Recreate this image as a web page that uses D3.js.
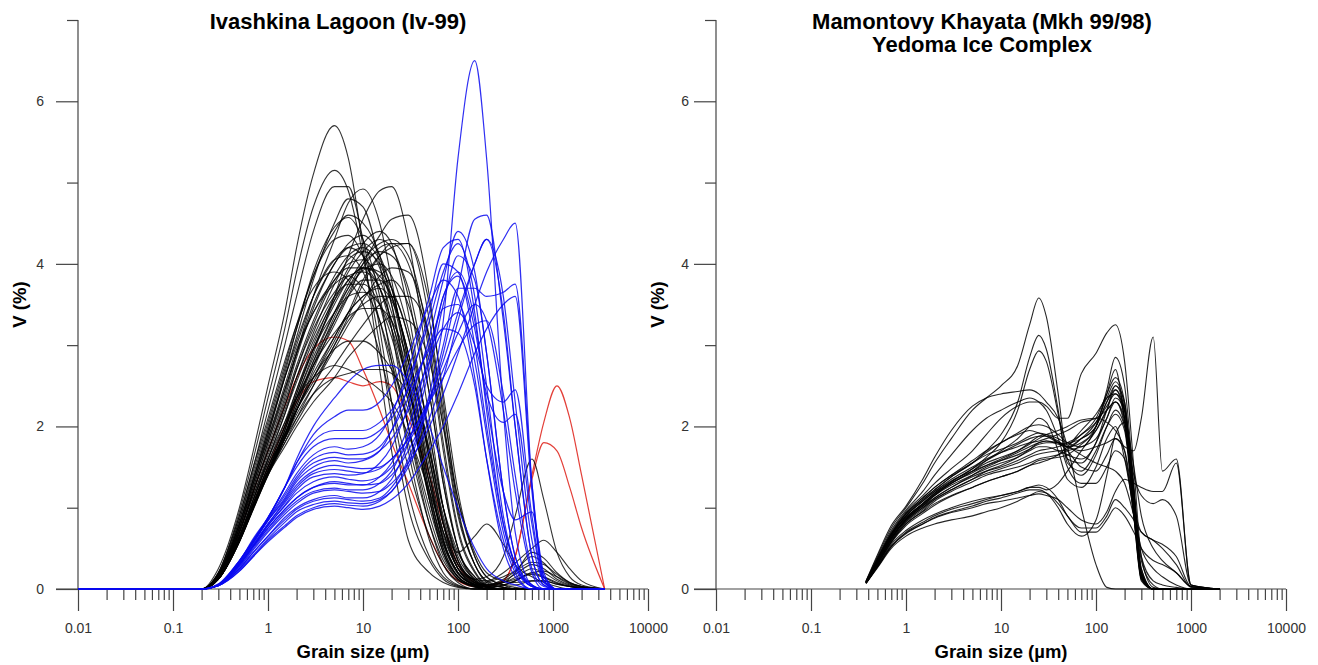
<!DOCTYPE html>
<html>
<head>
<meta charset="utf-8">
<script src="https://cdn.jsdelivr.net/npm/d3@7"></script>
<style>
  body { margin: 0; background: #fff; }
  text { font-family: "Liberation Sans", Arial, Helvetica, sans-serif; }
</style>
</head>
<body>
<svg id="chart" width="1318" height="665"></svg>
<script>
// ---------------- data ----------------
// grain sizes (µm) sampled for the Ivashkina Lagoon curves
const sizesLeft = [0.01, 0.2, 0.3, 0.5, 0.7, 1, 1.5, 2, 3, 5, 7, 10, 15, 20, 30, 50, 70, 100,
  150, 200, 300, 400, 600, 800, 1100, 1500, 2000, 3500];

// black samples, V (%)
const blackLeft = [
  [0,0,.25,1.0,1.7,2.5,3.4,4.2,5.1,5.7,5.3,4.2,2.7,1.7,.6,.2,.08,.02, 0,0,0,0,0,0,0,0,0,0],
  [0,0,.2,.95,1.6,2.35,3.2,3.9,4.7,5.15,4.9,4.1,3.0,2.1,1.0,.35,.12,.03, 0,0,0,0,0,0,0,0,0,0],
  [0,0,.2,.9,1.5,2.2,3.0,3.6,4.4,4.95,4.95,4.3,3.2,2.3,1.2,.4,.15,.04, 0,0,0,0,0,0,0,0,0,0],
  [0,0,.15,.75,1.25,1.8,2.4,2.9,3.6,4.3,4.75,4.92,4.5,3.8,2.6,1.1,.45,.12, .02,0,0,0,0,0,0,0,0,0],
  [0,0,.12,.6,1.0,1.45,1.95,2.35,2.9,3.6,4.1,4.55,4.9,4.95,4.3,2.6,1.4,.5, .1,.02,0,0,0,0,0,0,0,0],
  [0,0,.15,.8,1.3,1.9,2.6,3.1,3.8,4.5,4.8,4.7,4.0,3.2,2.0,.8,.3,.08, 0,0,0,0,0,0,0,0,0,0],
  [0,0,.14,.65,1.1,1.55,2.0,2.35,2.75,3.25,3.6,4.0,4.35,4.55,4.6,3.6,2.3,1.0, .3,.1,.02,0,0,0,0,0,0,0],
  [0,0,.18,.85,1.4,2.0,2.7,3.2,3.9,4.45,4.57,4.3,3.6,2.8,1.7,.6,.2,.05, 0,0,0,0,0,0,0,0,0,0],
  [0,0,.12,.6,1.05,1.5,2.0,2.45,3.0,3.6,3.95,4.25,4.4,4.25,3.4,1.8,.8,.25, .05,0,0,0,0,0,0,0,0,0],
  [0,0,.13,.62,1.05,1.5,1.9,2.2,2.55,3.0,3.35,3.75,4.1,4.25,4.25,3.5,2.4,1.2, .4,.15,.05,.02,0,0,0,0,0,0],
  [0,0,.14,.7,1.2,1.7,2.3,2.75,3.3,3.85,4.1,4.2,3.95,3.5,2.5,1.2,.5,.15, .03,0,0,0,0,0,0,0,0,0],
  [0,0,.17,.8,1.35,1.9,2.6,3.0,3.6,4.05,4.1,3.9,3.3,2.7,1.8,.8,.35,.12, .03,0,0,0,0,0,0,0,0,0],
  [0,0,.12,.6,1.0,1.45,1.95,2.35,2.85,3.4,3.7,3.92,4.0,3.85,3.2,1.9,1.0,.35, .08,0,0,0,0,0,0,0,0,0],
  [0,0,.15,.7,1.2,1.7,2.25,2.7,3.2,3.65,3.85,3.9,3.7,3.3,2.5,1.3,.6,.2, .05,.03,.08,.14,.25,.2,.1,.04,.02,0],
  [0,0,.16,.75,1.3,1.85,2.5,2.95,3.4,3.75,3.85,3.7,3.3,2.8,2.0,1.0,.45,.15, .05,.05,.12,.22,.4,.32,.15,.06,.03,0],
  [0,0,.12,.58,1.0,1.42,1.85,2.2,2.65,3.1,3.4,3.6,3.75,3.8,3.5,2.4,1.3,.5, .12,.03,0,0,0,0,0,0,0,0],
  [0,0,.12,.6,1.0,1.42,1.85,2.2,2.6,3.1,3.4,3.6,3.7,3.55,2.9,1.6,.8,.25, .12,.15,.4,.9,1.6,1.1,.45,.15,.05,0],
  [0,0,.12,.58,.98,1.4,1.8,2.1,2.5,3.0,3.3,3.5,3.6,3.6,3.1,1.6,.8,.45, .65,.8,.55,.3,.15,.08,.03,0,0,0],
  [0,0,.12,.6,1.0,1.45,1.9,2.3,2.8,3.3,3.6,3.8,3.8,3.6,2.9,1.6,.8,.3, .12,.1,.2,.32,.5,.6,.45,.25,.1,0],
  [0,0,.2,.9,1.5,2.1,2.8,3.25,3.7,3.9,3.8,3.5,2.9,2.3,1.5,.65,.3,.1, .05,.08,.15,.22,.33,.3,.18,.08,.03,0],
  [0,0,.15,.7,1.15,1.6,2.05,2.35,2.6,2.75,2.7,2.6,2.45,2.3,1.9,1.2,.7,.3, .1,.03,0,0,0,0,0,0,0,0],
  [0,0,.13,.65,1.1,1.55,2.05,2.45,2.95,3.4,3.6,3.65,3.5,3.2,2.5,1.4,.7,.25, .06,0,0,0,0,0,0,0,0,0],
  [0,0,.13,.6,1.02,1.45,1.9,2.25,2.75,3.35,3.7,4.0,4.15,4.1,3.7,2.4,1.3,.5, .15,.04,0,0,0,0,0,0,0,0],
  [0,0,.14,.7,1.2,1.7,2.25,2.7,3.25,3.8,4.0,4.05,3.8,3.4,2.6,1.3,.6,.2, .05,0,0,0,0,0,0,0,0,0],
  [0,0,.12,.58,1.0,1.42,1.85,2.2,2.7,3.3,3.65,3.95,4.2,4.25,4.0,2.9,1.7,.7, .2,.05,.02,0,0,0,0,0,0,0],
  [0,0,.13,.6,1.0,1.45,1.85,2.15,2.5,2.95,3.25,3.55,3.85,3.95,3.9,3.1,2.0,.9, .3,.1,.05,.05,.1,.1,.06,.03,.01,0],
  [0,0,.13,.65,1.1,1.6,2.15,2.6,3.15,3.75,4.05,4.15,4.0,3.6,2.7,1.4,.6,.2, .05,0,0,0,0,0,0,0,0,0],
  [0,0,.16,.8,1.35,1.95,2.65,3.2,3.85,4.4,4.6,4.5,4.1,3.5,2.4,1.1,.45,.15, .03,0,0,0,0,0,0,0,0,0],
  [0,0,.14,.7,1.2,1.75,2.35,2.85,3.45,4.0,4.2,4.25,4.05,3.7,2.8,1.5,.7,.25, .07,.02,.05,.1,.2,.15,.08,.03,.01,0],
  [0,0,.12,.6,1.0,1.45,1.95,2.4,2.95,3.55,3.9,4.15,4.3,4.2,3.6,2.1,1.0,.35, .1,.05,.08,.12,.18,.14,.07,.03,.01,0],
  [0,0,.12,.58,.98,1.4,1.75,2.0,2.3,2.6,2.85,3.05,3.25,3.35,3.3,2.8,2.0,1.1, .45,.2,.1,.08,.1,.1,.06,.03,.01,0],
  [0,0,.12,.6,1.0,1.42,1.8,2.05,2.4,2.75,3.0,3.25,3.5,3.6,3.6,3.1,2.2,1.1, .4,.15,.05,0,0,0,0,0,0,0],
  [0,0,.18,.85,1.45,2.05,2.75,3.25,3.85,4.3,4.35,4.1,3.5,2.9,2.0,.9,.4,.12, .03,0,0,0,0,0,0,0,0,0],
  [0,0,.15,.75,1.25,1.8,2.45,2.9,3.5,4.0,4.25,4.35,4.1,3.7,2.8,1.4,.6,.2, .05,0,0,0,0,0,0,0,0,0],
  [0,0,.13,.65,1.1,1.6,2.15,2.55,3.05,3.55,3.8,3.95,3.85,3.6,2.9,1.7,.85,.3, .08,.02,0,0,0,0,0,0,0,0],
  [0,0,.14,.65,1.05,1.45,1.85,2.1,2.4,2.6,2.65,2.7,2.7,2.65,2.4,1.7,1.0,.45, .15,.05,.1,.18,.3,.25,.12,.05,.02,0],
  [0,0,.17,.8,1.35,1.95,2.6,3.05,3.6,4.05,4.2,4.1,3.7,3.2,2.3,1.1,.5,.15, .04,0,0,0,0,0,0,0,0,0],
  [0,0,.13,.6,1.02,1.45,1.88,2.25,2.8,3.4,3.75,4.05,4.25,4.3,4.1,3.0,1.8,.75, .22,.06,.02,0,0,0,0,0,0,0],
  [0,0,.12,.6,1.05,1.5,2.0,2.4,2.95,3.5,3.8,3.95,3.9,3.7,3.1,1.9,1.0,.4, .12,.05,.08,.2,.45,.38,.2,.08,.03,0],
  [0,0,.15,.7,1.15,1.65,2.2,2.6,3.1,3.6,3.75,3.75,3.5,3.1,2.3,1.15,.55,.2, .06,.02,.05,.1,.2,.22,.15,.07,.03,0],
  [0,0,.13,.6,1.0,1.4,1.85,2.2,2.6,2.95,3.05,3.05,2.9,2.7,2.2,1.3,.65,.25, .08,.03,0,0,0,0,0,0,0,0],
  [0,0,.12,.6,1.0,1.45,1.9,2.3,2.75,3.15,3.35,3.45,3.45,3.3,2.8,1.7,.9,.35, .1,.03,0,0,0,0,0,0,0,0],
  [0,0,.13,.62,1.05,1.5,1.9,2.2,2.6,3.05,3.4,3.8,4.1,4.2,4.25,3.3,2.1,.95, .3,.08,.02,0,0,0,0,0,0,0],
  [0,0,.16,.75,1.3,1.85,2.45,2.9,3.4,3.8,3.95,3.95,3.7,3.3,2.5,1.2,.55,.18, .05,0,0,0,0,0,0,0,0,0]
];

// blue samples, V (%)
const blueLeft = [
  [0,0,.04,.25,.45,.65,.85,.98,1.08,1.12,1.1,1.08,1.12,1.25,1.6,2.4,3.3,5.3, 6.5,5.3,2.2,.7,.05,0,0,0,0,0],
  [0,0,.05,.3,.52,.75,.98,1.12,1.25,1.32,1.3,1.28,1.3,1.4,1.7,2.3,2.9,3.7, 4.55,4.6,3.3,2.0,.4,.05,0,0,0,0],
  [0,0,.04,.27,.48,.7,.92,1.05,1.18,1.22,1.2,1.18,1.2,1.3,1.55,2.0,2.4,2.9, 3.5,3.9,4.3,4.5,1.3,.15,0,0,0,0],
  [0,0,.05,.3,.55,.8,1.08,1.28,1.45,1.52,1.5,1.48,1.5,1.6,1.85,2.35,2.8,3.4, 4.0,4.3,3.6,2.3,.6,.1,0,0,0,0],
  [0,0,.05,.34,.58,.86,1.18,1.42,1.65,1.75,1.72,1.75,1.9,2.15,2.7,3.6,4.2,4.3, 3.4,2.2,.8,.3,.05,0,0,0,0,0],
  [0,0,.05,.3,.53,.78,1.03,1.22,1.38,1.42,1.4,1.42,1.55,1.75,2.25,3.1,3.8,4.4, 3.9,2.9,1.2,.4,.05,0,0,0,0,0],
  [0,0,.06,.35,.6,.88,1.25,1.55,1.9,2.12,2.2,2.2,2.3,2.5,2.9,3.5,3.8,3.6, 2.6,1.6,.5,.15,0,0,0,0,0,0],
  [0,0,.04,.22,.4,.6,.78,.9,1.0,1.05,1.03,1.02,1.08,1.2,1.55,2.3,3.0,3.7, 3.7,3.6,3.65,3.75,1.3,.15,0,0,0,0],
  [0,0,.05,.32,.57,.84,1.12,1.35,1.55,1.62,1.6,1.6,1.7,1.85,2.2,2.8,3.2,3.4, 3.0,2.5,2.3,2.45,.9,.1,0,0,0,0],
  [0,0,.05,.28,.5,.72,.95,1.08,1.2,1.24,1.22,1.22,1.3,1.45,1.9,2.8,3.6,3.85, 3.2,2.4,2.05,2.15,.8,.08,0,0,0,0],
  [0,0,.06,.35,.6,.88,1.25,1.6,2.0,2.35,2.55,2.7,2.75,2.75,2.55,2.0,1.5,1.0, .5,.25,.1,.05,0,0,0,0,0,0],
  [0,0,.05,.34,.6,.87,1.25,1.5,1.75,1.85,1.85,1.85,1.95,2.1,2.45,2.95,3.2,3.15, 2.5,1.6,.6,.2,0,0,0,0,0,0],
  [0,0,.04,.25,.45,.65,.88,1.0,1.1,1.15,1.12,1.12,1.2,1.35,1.8,2.7,3.5,4.1, 3.8,2.9,1.2,.4,.03,0,0,0,0,0],
  [0,0,.05,.3,.53,.78,1.02,1.18,1.32,1.38,1.35,1.33,1.38,1.5,1.8,2.3,2.7,3.15, 3.5,3.3,2.2,1.2,.2,0,0,0,0,0],
  [0,0,.05,.32,.57,.84,1.1,1.32,1.5,1.58,1.55,1.58,1.7,1.95,2.5,3.4,4.0,3.9, 3.0,2.0,.8,.3,.03,0,0,0,0,0],
  [0,0,.04,.22,.4,.58,.76,.88,.98,1.02,1.0,.98,1.02,1.1,1.3,1.7,2.0,2.4, 2.9,3.2,3.5,3.6,1.2,.1,0,0,0,0],
  [0,0,.05,.3,.52,.75,.98,1.12,1.25,1.3,1.28,1.28,1.38,1.55,2.0,2.9,3.6,3.9, 3.3,2.3,1.2,.85,.95,.2,0,0,0,0],
  [0,0,.05,.34,.62,.88,1.25,1.55,1.82,1.95,1.95,1.95,2.05,2.2,2.6,3.3,3.9,4.25, 3.6,2.5,.9,.3,.03,0,0,0,0,0],
  [0,0,.04,.24,.42,.62,.82,.95,1.04,1.08,1.06,1.05,1.1,1.2,1.5,2.1,2.6,3.3, 4.0,4.3,3.4,2.0,.4,.05,0,0,0,0],
  [0,0,.05,.32,.58,.85,1.15,1.38,1.6,1.68,1.65,1.66,1.75,1.95,2.35,3.0,3.45,3.5, 2.8,1.9,.7,.25,.03,0,0,0,0,0],
  [0,0,.05,.3,.54,.8,1.06,1.25,1.42,1.47,1.45,1.43,1.48,1.6,1.85,2.3,2.6,2.95, 3.25,3.3,2.4,1.4,.25,.03,0,0,0,0]
];

// red samples (fine + gravel mode), V (%)
const redLeft = [
  [0,0,.15,.7,1.2,1.7,2.25,2.6,2.95,3.1,3.05,2.7,2.2,1.8,1.3,.65,.3,.1, .03,.03,.1,.4,1.4,2.05,2.5,2.1,1.4,0],
  [0,0,.13,.6,1.05,1.5,2.0,2.3,2.55,2.6,2.55,2.5,2.55,2.5,2.1,1.4,.8,.3, .08,.04,.1,.4,1.35,1.8,1.7,1.25,.75,0]
];

// grain sizes (µm) sampled for the Mamontovy Khayata curves
const sizesRight = [0.38, 0.5, 0.7, 1, 1.5, 2, 3, 5, 7, 10, 15, 20, 25, 30,
  40, 50, 70, 100, 130, 160, 200, 250, 300, 400, 500, 700, 1000, 2000];

const curvesRight = [
  [.1,.4,.75,1.0,1.3,1.55,1.85,2.2,2.35,2.5,2.75,3.25,3.58,3.35, 2.4,1.6,1.4,1.65,2.0,2.2,2.0,1.0,.15,0,0,0,0,0],
  [.1,.42,.78,1.02,1.35,1.62,1.95,2.25,2.35,2.4,2.43,2.45,2.4,2.3, 2.1,1.75,1.0,.3,.02,0,0,0,0,0,0,0,0,0],
  [.08,.33,.65,.9,1.1,1.22,1.38,1.55,1.7,1.9,2.3,2.85,3.12,2.95, 2.2,1.55,1.45,1.7,2.0,2.15,1.95,.9,.12,0,0,0,0,0],
  [.08,.33,.63,.87,1.05,1.18,1.32,1.48,1.62,1.8,2.2,2.7,2.93,2.8, 2.15,1.6,1.55,1.8,2.1,2.3,2.05,1.0,.15,0,0,0,0,0],
  [.09,.37,.7,.95,1.15,1.3,1.48,1.7,1.9,2.1,2.25,2.3,2.3,2.25, 2.1,2.1,2.65,2.9,3.15,3.25,2.8,1.5,.4,.02,0,0,0,0],
  [.09,.36,.68,.92,1.1,1.22,1.38,1.55,1.68,1.8,1.9,1.95,1.92,1.88, 1.8,1.75,1.7,1.75,1.8,1.85,1.75,1.7,2.1,3.1,1.45,1.6,.05,0],
  [.08,.32,.62,.85,1.02,1.12,1.25,1.38,1.45,1.5,1.58,1.65,1.7,1.72, 1.75,1.8,1.9,2.1,2.4,2.6,2.3,1.1,.15,0,0,0,0,0],
  [.09,.35,.66,.9,1.08,1.2,1.33,1.45,1.52,1.58,1.65,1.72,1.78,1.8, 1.8,1.75,1.85,2.0,2.3,2.45,2.1,.9,.1,0,0,0,0,0],
  [.08,.3,.58,.8,.95,1.05,1.15,1.25,1.32,1.38,1.45,1.52,1.55,1.58, 1.65,1.75,1.95,2.15,2.35,2.4,2.2,1.2,.2,0,0,0,0,0],
  [.07,.28,.55,.72,.85,.92,1.0,1.08,1.12,1.15,1.2,1.25,1.25,1.22, 1.3,1.45,1.7,1.95,2.2,2.3,2.1,1.1,.15,0,0,0,0,0],
  [.07,.26,.5,.65,.75,.8,.85,.9,.95,1.0,1.08,1.15,1.2,1.18, 1.05,.9,.7,.7,.85,1.0,.9,.7,.5,.35,.3,.2,.03,0],
  [.09,.36,.68,.93,1.12,1.25,1.4,1.58,1.7,1.8,1.92,2.0,2.02,2.0, 1.9,1.8,1.75,2.0,2.45,2.85,2.5,1.3,.25,0,0,0,0,0],
  [.08,.34,.65,.88,1.05,1.18,1.32,1.48,1.58,1.68,1.78,1.85,1.88,1.88, 1.82,1.75,1.8,2.0,2.4,2.7,2.1,1.4,1.15,1.05,1.1,.9,.05,0],
  [.07,.27,.52,.68,.8,.88,.95,1.02,1.08,1.12,1.18,1.22,1.22,1.18, 1.0,.8,.65,.85,1.4,1.9,2.05,1.5,.9,.5,.35,.2,.03,0],
  [.08,.33,.63,.86,1.03,1.15,1.28,1.4,1.48,1.55,1.62,1.7,1.75,1.75, 1.7,1.65,1.6,1.8,2.2,2.5,2.2,1.1,.15,0,0,0,0,0],
  [.09,.35,.67,.9,1.08,1.2,1.35,1.5,1.6,1.68,1.75,1.8,1.82,1.85, 1.9,1.95,2.05,2.1,2.2,2.3,2.0,1.1,.2,0,0,0,0,0],
  [.08,.33,.62,.85,1.02,1.15,1.3,1.45,1.58,1.7,1.85,2.0,2.1,2.05, 1.7,1.35,1.25,1.5,1.85,2.0,1.6,1.0,.7,.6,.5,.3,.02,0],
  [.08,.3,.58,.8,.96,1.08,1.2,1.32,1.4,1.45,1.5,1.55,1.6,1.62, 1.65,1.7,1.75,1.85,2.1,2.35,2.2,1.2,.2,0,0,0,0,0],
  [.09,.36,.68,.93,1.12,1.25,1.4,1.55,1.65,1.72,1.8,1.88,1.92,1.9, 1.8,1.7,1.5,1.45,1.65,1.85,1.7,1.0,.35,.05,0,0,0,0],
  [.07,.27,.52,.69,.8,.87,.94,1.0,1.05,1.08,1.12,1.15,1.17,1.15, 1.1,1.0,.85,.8,.95,1.2,1.35,1.3,1.25,1.2,1.2,1.55,.05,0],
  [.08,.31,.6,.82,.98,1.1,1.22,1.35,1.42,1.48,1.55,1.62,1.66,1.68, 1.7,1.72,1.85,2.05,2.35,2.55,2.25,1.0,.12,0,0,0,0,0],
  [.08,.32,.6,.83,1.0,1.12,1.25,1.4,1.5,1.58,1.68,1.75,1.8,1.82, 1.8,1.78,1.9,2.05,2.25,2.4,2.1,1.2,.4,.1,.05,.02,0,0],
  [.09,.38,.72,.97,1.2,1.4,1.65,1.95,2.1,2.2,2.3,2.35,2.3,2.2, 1.85,1.5,1.3,1.3,1.5,1.7,1.6,.9,.25,0,0,0,0,0],
  [.08,.32,.62,.84,1.0,1.1,1.22,1.35,1.45,1.52,1.62,1.72,1.8,1.82, 1.78,1.75,1.65,1.55,1.5,1.45,1.3,.9,.5,.25,.15,.05,0,0],
  [.08,.3,.57,.78,.93,1.03,1.14,1.25,1.32,1.38,1.45,1.52,1.58,1.6, 1.62,1.65,1.78,1.95,2.2,2.45,2.2,1.1,.15,0,0,0,0,0],
  [.09,.35,.66,.88,1.05,1.17,1.3,1.45,1.55,1.62,1.7,1.78,1.85,1.9, 1.95,2.0,2.08,2.1,2.05,1.95,1.7,.9,.15,0,0,0,0,0],
  [.07,.28,.53,.7,.82,.9,.98,1.05,1.1,1.15,1.2,1.25,1.28,1.25, 1.1,.9,.75,.75,.9,1.1,1.0,.85,.7,.6,.55,.4,.03,0],
  [.08,.33,.63,.86,1.04,1.16,1.3,1.43,1.52,1.6,1.7,1.8,1.88,1.9, 1.85,1.8,1.85,2.0,2.3,2.5,2.3,1.2,.2,0,0,0,0,0]
];

// axis ticks
const xMajor = [0.01, 0.1, 1, 10, 100, 1000, 10000];
const yMajor = [0, 2, 4, 6];
const yMinor = [1, 3, 5, 7];

// ---------------- drawing ----------------
const svg = d3.select("#chart");
const yTop = 20, yBase = 589, plotW = 570;
const axisColor = "#444";

function drawPanel(p) {
  const x = d3.scaleLog().domain([0.01, 10000]).range([p.left, p.left + plotW]);
  const y = d3.scaleLinear().domain([0, 7]).range([yBase, yTop]);
  const g = svg.append("g");

  // minor x ticks: every 2..9 of each decade
  const xMinor = x.ticks().filter(v => Math.abs(Math.log10(v) - Math.round(Math.log10(v))) > 1e-6);

  const styleAxis = sel => {
    sel.select(".domain").remove();
    sel.selectAll(".tick line").attr("stroke", axisColor).attr("stroke-width", 1.2);
    sel.selectAll(".tick text").attr("fill", "#333").attr("font-size", 14)
      .attr("font-family", '"Liberation Sans", Arial, sans-serif');
  };

  g.append("g").attr("transform", `translate(0,${yBase})`)
    .call(d3.axisBottom(x).tickValues(xMajor).tickSize(22).tickPadding(12).tickFormat(d3.format("~f")))
    .call(styleAxis);
  g.append("g").attr("transform", `translate(0,${yBase})`)
    .call(d3.axisBottom(x).tickValues(xMinor).tickSize(11).tickFormat(""))
    .call(styleAxis);
  g.append("g").attr("transform", `translate(${p.left},0)`)
    .call(d3.axisLeft(y).tickValues(yMajor).tickSize(22).tickPadding(p.yPad).tickFormat(d3.format("d")))
    .call(styleAxis);
  g.append("g").attr("transform", `translate(${p.left},0)`)
    .call(d3.axisLeft(y).tickValues(yMinor).tickSize(11).tickFormat(""))
    .call(styleAxis);

  // axis lines
  g.append("line")
    .attr("x1", x(0.01) - 22).attr("x2", x(10000))
    .attr("y1", y(0)).attr("y2", y(0))
    .attr("stroke", axisColor).attr("stroke-width", 1.2);
  g.append("line")
    .attr("x1", x(0.01)).attr("x2", x(0.01))
    .attr("y1", y(7)).attr("y2", y(0))
    .attr("stroke", axisColor).attr("stroke-width", 1.2);

  // curves
  const line = d3.line()
    .x(d => x(d[0]))
    .y(d => y(d[1]))
    .curve(d3.curveMonotoneX);

  p.series.forEach(s => {
    g.append("g").selectAll("path")
      .data(s.rows)
      .join("path")
      .attr("d", row => line(row.map((v, i) => [s.sizes[i], v])))
      .attr("fill", "none")
      .attr("stroke", s.color)
      .attr("stroke-opacity", s.opacity)
      .attr("stroke-width", s.width);
  });

  // titles and labels
  p.title.forEach((t, i) => {
    g.append("text")
      .attr("x", p.titleX).attr("y", 29 + i * 23)
      .attr("text-anchor", "middle")
      .attr("font-size", 22).attr("font-weight", "bold")
      .text(t);
  });

  g.append("text")
    .attr("x", (x.range()[0] + x.range()[1]) / 2).attr("y", 658)
    .attr("text-anchor", "middle")
    .attr("font-size", 18.5).attr("font-weight", "bold")
    .text("Grain size (µm)");

  g.append("text")
    .attr("transform", `translate(${p.left - 52},${(yTop + yBase) / 2}) rotate(-90)`)
    .attr("text-anchor", "middle")
    .attr("font-size", 18.5).attr("font-weight", "bold")
    .text("V (%)");
}

drawPanel({
  left: 78, titleX: 338, yPad: 12,
  title: ["Ivashkina Lagoon (Iv-99)"],
  series: [
    { rows: redLeft, sizes: sizesLeft, color: "#e02a22", opacity: 0.9, width: 1.2 },
    { rows: blackLeft, sizes: sizesLeft, color: "#000", opacity: 0.8, width: 1.1 },
    { rows: blueLeft, sizes: sizesLeft, color: "#0a0af0", opacity: 0.85, width: 1.2 }
  ]
});

drawPanel({
  left: 716, titleX: 982, yPad: 5,
  title: ["Mamontovy Khayata (Mkh 99/98)", "Yedoma Ice Complex"],
  series: [
    { rows: curvesRight, sizes: sizesRight, color: "#000", opacity: 0.85, width: 1.1 }
  ]
});
</script>
</body>
</html>
